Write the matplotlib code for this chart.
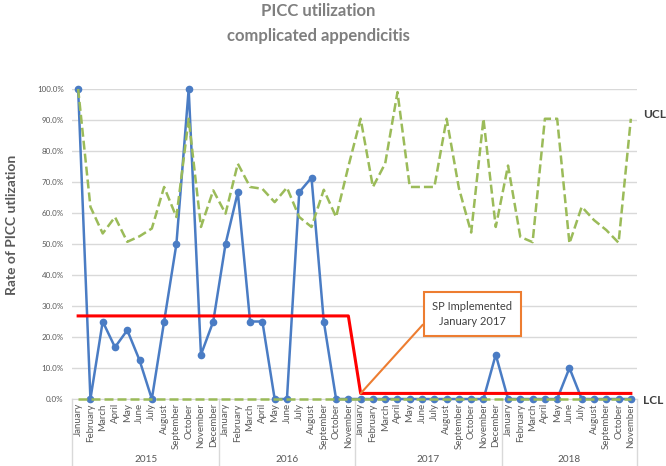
import matplotlib
matplotlib.use('Agg')
import matplotlib.pyplot as plt
import matplotlib.transforms as mtransforms
from matplotlib.ticker import PercentFormatter

plt.rcParams['font.family'] = ['Lato', 'DejaVu Sans']

month_names = ['January', 'February', 'March', 'April', 'May', 'June', 'July',
               'August', 'September', 'October', 'November', 'December']
years = ['2015', '2016', '2017', '2018']
months_per_year = [12, 11, 12, 11]

month_labels = []
for n in months_per_year:
    month_labels += month_names[:n]

# rate of PICC utilization, percent
picc_rate = [100, 0, 25, 16.7, 22.2, 12.5, 0, 25, 50, 100, 14.3, 25,
             50, 66.7, 25, 25, 0, 0, 66.7, 71.4, 25, 0, 0,
             0, 0, 0, 0, 0, 0, 0, 0, 0, 0, 0, 14.3,
             0, 0, 0, 0, 0, 10, 0, 0, 0, 0, 0]

ucl = [100, 62, 53.4, 58.7, 50.7, 52.5, 55, 68.4, 58.7, 90.4, 55.5, 67.3,
       59.8, 75.9, 68.4, 67.8, 63.5, 68.2, 58.7, 55.5, 67.5, 58.7, 75,
       90.4, 68.4, 76, 99, 68.4, 68.4, 68.4, 90.4, 68, 53.7, 90.4, 55.5,
       75.3, 52.3, 50.6, 90.4, 90.4, 50.2, 62, 57.7, 54.5, 50.4, 90.4]

lcl = [0, 0, 0, 0, 0, 0, 0, 0, 0, 0, 0, 0,
       0, 0, 0, 0, 0, 0, 0, 0, 0, 0, 0,
       0, 0, 0, 0, 0, 0, 0, 0, 0, 0, 0, 0,
       0, 0, 0, 0, 0, 0, 0, 0, 0, 0, 0]

center_line = [26.8, 26.8, 26.8, 26.8, 26.8, 26.8, 26.8, 26.8, 26.8, 26.8, 26.8, 26.8,
               26.8, 26.8, 26.8, 26.8, 26.8, 26.8, 26.8, 26.8, 26.8, 26.8, 26.8,
               1.8, 1.8, 1.8, 1.8, 1.8, 1.8, 1.8, 1.8, 1.8, 1.8, 1.8, 1.8,
               1.8, 1.8, 1.8, 1.8, 1.8, 1.8, 1.8, 1.8, 1.8, 1.8, 1.8]

x = list(range(len(picc_rate)))

fig = plt.figure(figsize=(6.66, 4.66), dpi=100)
ax = fig.add_axes([72/666, 1-399/466, (637-72)/666, (399-89)/466])

blue = '#4A7CC4'
green = '#9BBB59'
grey = '#595959'

ax.plot(x, picc_rate, color=blue, lw=1.8, marker='o', ms=4.5, zorder=3, clip_on=False)
ax.plot(x, center_line, color='#FF0000', lw=2.2, zorder=4, clip_on=False)
ax.plot(x, ucl, color=green, lw=1.8, dashes=(3.6, 1.6), zorder=5, clip_on=False)
ax.plot(x, lcl, color=green, lw=1.8, dashes=(3.6, 1.6), zorder=5, clip_on=False)

ax.set_xlim(-0.5, len(x) - 0.5)
ax.set_ylim(0, 100)
ax.set_yticks(range(0, 101, 10))
ax.yaxis.set_major_formatter(PercentFormatter(xmax=100, decimals=1))
ax.set_xticks(x)
ax.set_xticklabels(month_labels, rotation=90)
ax.tick_params(axis='x', length=0, pad=3, labelsize=7, labelcolor=grey)
ax.tick_params(axis='y', length=0, pad=6, labelsize=5.8, labelcolor=grey)
ax.grid(axis='y', color='#D9D9D9', lw=1)
ax.set_axisbelow(True)
for s in ['top', 'right', 'left']:
    ax.spines[s].set_visible(False)
ax.spines['bottom'].set_color('#D9D9D9')

# year groups under the month labels
trans = mtransforms.blended_transform_factory(ax.transData, fig.transFigure)
start = 0
for yr, n in zip(years, months_per_year):
    ax.text(start + (n - 1) / 2, 1 - 459/466, yr, transform=trans, ha='center', va='center',
            fontsize=7.2, color=grey)
    ax.plot([start - 0.5, start - 0.5], [0, 1 - 399/466], transform=trans, color='#D9D9D9',
            lw=1, clip_on=False)
    start += n
ax.plot([start - 0.5, start - 0.5], [0, 1 - 399/466], transform=trans, color='#D9D9D9',
        lw=1, clip_on=False)

ax.annotate('SP Implemented\nJanuary 2017', xy=(23, 1.8), xytext=(32.1, 27.4),
            ha='center', va='center', fontsize=8, color='#404040', zorder=6,
            linespacing=1.4,
            bbox=dict(boxstyle='square,pad=0.8', fc='white', ec='#ED7D31', lw=1.5),
            arrowprops=dict(arrowstyle='-', color='#ED7D31', lw=1.5, relpos=(0, 0.5),
                            shrinkA=0, shrinkB=0))

fig.text(643/666, 1-115/466, 'UCL', ha='left', va='center', fontsize=8.5,
         fontweight='bold', color='#404040')
fig.text(643/666, 1-400/466, 'LCL', ha='left', va='center', fontsize=8.5,
         fontweight='bold', color='#404040')

fig.text(318/666, 1-11/466, 'PICC utilization', ha='center', va='center', fontsize=12,
         fontweight='bold', color='#7F7F7F')
fig.text(318/666, 1-36/466, 'complicated appendicitis', ha='center', va='center', fontsize=12,
         fontweight='bold', color='#7F7F7F')
fig.text(12/666, 1-225/466, 'Rate of PICC utlization', rotation=90, ha='center', va='center',
         fontsize=10, fontweight='bold', color=grey)

fig.savefig('out.png', dpi=100)
